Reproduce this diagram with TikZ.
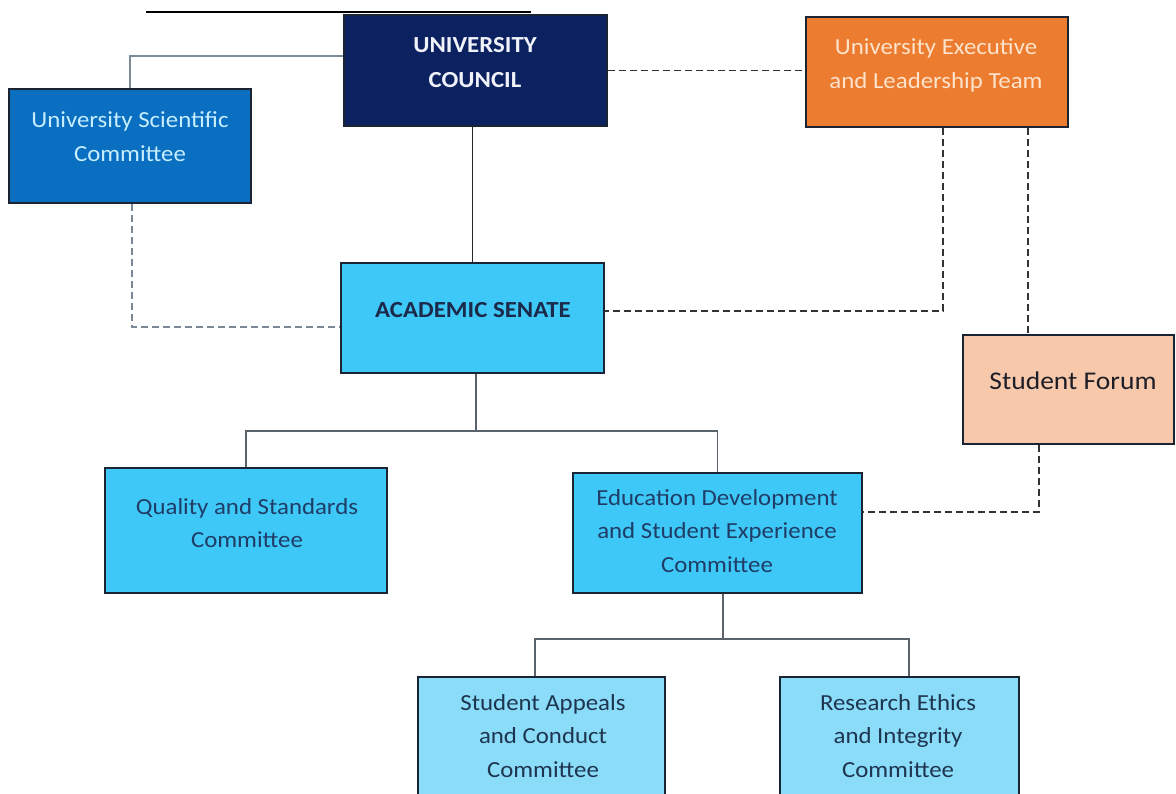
\documentclass[tikz,border=0pt]{standalone}
\usepackage{fontspec}
\setmainfont{Carlito}[FakeStretch=1.08]
\usetikzlibrary{calc}
\definecolor{bordc}{HTML}{1A2433}
\definecolor{navyfill}{HTML}{0C2260}
\definecolor{uscfill}{HTML}{0A6FC0}
\definecolor{skyfill}{HTML}{3EC8F7}
\definecolor{lightfill}{HTML}{8ADCF8}
\definecolor{orangefill}{HTML}{EC7C30}
\definecolor{peachfill}{HTML}{F7C9AA}
\definecolor{councilt}{HTML}{F0F2FA}
\definecolor{usct}{HTML}{C6EEFF}
\definecolor{senatet}{HTML}{1B2A4A}
\definecolor{exect}{HTML}{FDE3CB}
\definecolor{sft}{HTML}{1E1E28}
\definecolor{midt}{HTML}{1F3D66}
\definecolor{lowt}{HTML}{1E3550}
\definecolor{solidgray}{HTML}{5A636C}
\definecolor{lightgray}{HTML}{7C8C99}
\definecolor{dashdark}{HTML}{333333}
\definecolor{dashgray}{HTML}{7B8794}
\newcommand\mlines[1]{\begin{tabular}[t]{@{}c@{}}#1\end{tabular}}
\begin{document}
\begin{tikzpicture}[x=1pt,y=-1pt,
  box/.style={draw=bordc, line width=2.5pt, inner sep=0pt, rectangle},
  txt/.style={inner sep=0pt, anchor=base, font=\fontsize{23}{33.5}\selectfont},
  solidln/.style={draw=solidgray, line width=1.4pt},
  lightln/.style={draw=lightgray, line width=1.3pt},
  darkln/.style={draw=black!85, line width=1.5pt},
  dashln/.style={draw=dashdark, line width=1.6pt, dash pattern=on 7pt off 4pt},
  dashgr/.style={draw=dashgray, line width=1.6pt, dash pattern=on 7pt off 4pt}]
\useasboundingbox (0,0) rectangle (1176,794);
\clip (0,0) rectangle (1176,794);

% top rule
\coordinate (rulel) at (146,12);
\coordinate (ruler) at (531,12);
\draw[black, line width=2.5pt] (rulel) -- (ruler);

% boxes
\node[box, fill=navyfill, minimum width=263pt, minimum height=111pt] (council) at (475.5,70.5) {};
\node[box, fill=uscfill, minimum width=242pt, minimum height=114pt] (usc) at (130,146) {};
\node[box, fill=skyfill, minimum width=263pt, minimum height=110pt] (senate) at (472.5,318) {};
\node[box, fill=orangefill, minimum width=262pt, minimum height=110pt] (exec) at (937,72) {};
\node[box, fill=peachfill, minimum width=211pt, minimum height=109pt] (sf) at (1068.5,389.5) {};
\node[box, fill=skyfill, minimum width=282pt, minimum height=125pt] (qsc) at (246,530.5) {};
\node[box, fill=skyfill, minimum width=289pt, minimum height=120pt] (edsec) at (717.5,533) {};
\node[box, fill=lightfill, minimum width=247pt, minimum height=143pt] (sacc) at (541.5,748.5) {};
\node[box, fill=lightfill, minimum width=239pt, minimum height=143pt] (reic) at (899.5,748.5) {};

% texts
\node[txt, text=councilt, font=\bfseries\fontsize{23}{35}\selectfont] (council-t) at (475,53) {\mlines{UNIVERSITY\\COUNCIL}};
\node[txt, text=usct] (usc-t) at (130,128) {\mlines{University Scientific\\Committee}};
\node[txt, text=senatet, font=\bfseries\fontsize{23}{33.5}\selectfont] (senate-t) at (473,318) {ACADEMIC SENATE};
\node[txt, text=exect] (exec-t) at (936,55) {\mlines{University Executive\\and Leadership Team}};
\node[txt, text=sft, font=\fontsize{25.5}{33.5}\selectfont] (sf-t) at (1073,389) {Student Forum};
\node[txt, text=midt] (qsc-t) at (247,514) {\mlines{Quality and Standards\\Committee}};
\node[txt, text=midt] (edsec-t) at (717,505) {\mlines{Education Development\\and Student Experience\\Committee}};
\node[txt, text=lowt] (sacc-t) at (543,710) {\mlines{Student Appeals\\and Conduct\\Committee}};
\node[txt, text=lowt] (reic-t) at (898,710) {\mlines{Research Ethics\\and Integrity\\Committee}};

% junctions
\coordinate (j1) at (476,431);
\coordinate (j2) at (723,639);

% solid connectors
\draw[lightln] ([yshift=14.5pt]council.west) -| (usc.north);
\draw[darkln] (senate.north |- council.south) -- (senate.north);
\draw[solidln] (senate.south -| j1) -- (j1);
\draw[solidln] (qsc.north) -- (qsc.north |- j1) -- (edsec.north |- j1) -- (edsec.north);
\draw[solidln] (edsec.south -| j2) -- (j2);
\draw[solidln] ([xshift=-6.5pt]sacc.north) -- ([xshift=-6.5pt]sacc.north |- j2) -- ([xshift=9.5pt]reic.north |- j2) -- ([xshift=9.5pt]reic.north);

% dashed connectors
\draw[dashgr] ([xshift=2pt]usc.south) |- ([yshift=-9pt]senate.west);
\draw[dashln] (council.east) -- (council.east -| exec.west);
\draw[dashln] ([xshift=6pt]exec.south) |- ([yshift=7pt]senate.east);
\draw[dashln] ([xshift=-40.5pt]sf.north |- exec.south) -- ([xshift=-40.5pt]sf.north);
\draw[dashln] ([xshift=-29.5pt]sf.south) |- ([yshift=21pt]edsec.east);
\end{tikzpicture}
\end{document}
